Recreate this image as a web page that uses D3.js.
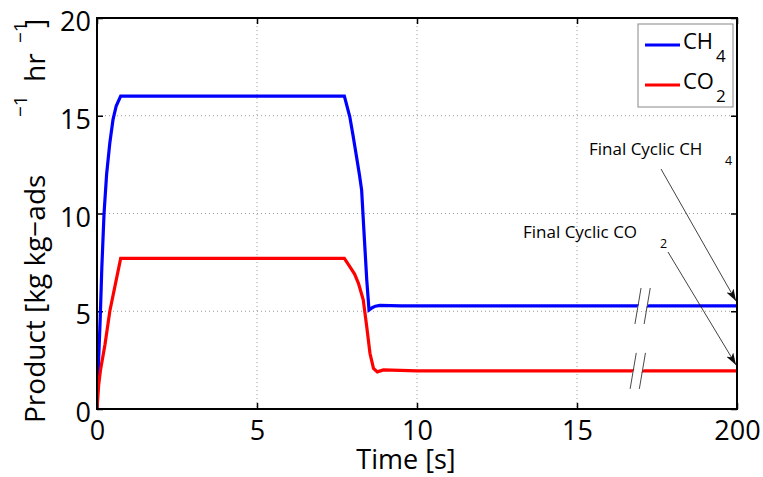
<!DOCTYPE html>
<html>
<head>
<meta charset="utf-8">
<script src="https://cdn.jsdelivr.net/npm/d3@7"></script>
<style>
  body { margin: 0; background: #fff; }
  svg text { font-family: "Open Sans", "Noto Sans", sans-serif; fill: #000; }
</style>
</head>
<body>
<svg id="draw"></svg>
<script>
// values
var tCH4 = [0, 0.05, 0.1, 0.15, 0.22, 0.3, 0.4, 0.5, 0.6, 0.74, 7.73, 7.9, 8.0, 8.11, 8.2, 8.27, 8.34, 8.43, 8.5, 8.6, 8.7, 8.84, 9.5, 20];
var ch4 = [0, 2.5, 4.6, 7.2, 10, 12, 13.6, 14.8, 15.5, 16.0, 16.0, 14.95, 14.0, 12.9, 12.0, 11.2, 9.15, 6.6, 5.06, 5.18, 5.26, 5.3, 5.27, 5.27];

var tCO2 = [0, 0.05, 0.11, 0.25, 0.4, 0.74, 7.73, 7.9, 8.05, 8.17, 8.32, 8.43, 8.53, 8.64, 8.76, 8.95, 10, 20];
var co2 = [0, 1.2, 2.0, 3.3, 5.0, 7.7, 7.7, 7.28, 6.9, 6.43, 5.58, 4.2, 2.85, 2.08, 1.9, 2.0, 1.95, 1.95];

var xTicks = [0, 5, 10, 15, 20];
var xTickLabels = ["0", "5", "10", "15", "200"];
var yTicks = [0, 5, 10, 15, 20];
var breakT = [17.05, 16.9]; // axis break marks, CH4 / CO2

var W = 763, H = 477;
var margin = { top: 18, right: 26, bottom: 68, left: 97 };
var width = W - margin.left - margin.right;
var height = H - margin.top - margin.bottom;

var svg = d3.select("#draw").attr("width", W).attr("height", H);

var defs = svg.append("defs");
defs.append("clipPath").attr("id", "clip")
  .append("rect").attr("width", width).attr("height", height);
defs.append("marker")
  .attr("id", "arrow")
  .attr("viewBox", "0 0 12 8")
  .attr("refX", 12).attr("refY", 4)
  .attr("markerWidth", 12).attr("markerHeight", 8)
  .attr("markerUnits", "userSpaceOnUse")
  .attr("orient", "auto")
  .append("path")
  .attr("d", "M0,0 L12,4 L0,8 L3,4 Z")
  .attr("fill", "#111");

var g = svg.append("g")
  .attr("transform", "translate(" + margin.left + "," + margin.top + ")");

var xScale = d3.scaleLinear().domain([0, 20]).range([0, width]);
var yScale = d3.scaleLinear().domain([0, 20]).range([height, 0]);

// grid
g.append("g").selectAll("line")
  .data(xTicks.slice(1, -1))
  .enter().append("line")
  .attr("x1", function(d) { return xScale(d); })
  .attr("x2", function(d) { return xScale(d); })
  .attr("y1", 0).attr("y2", height)
  .attr("stroke", "#999").attr("stroke-dasharray", "1,3");
g.append("g").selectAll("line")
  .data(yTicks.slice(1, -1))
  .enter().append("line")
  .attr("y1", function(d) { return yScale(d); })
  .attr("y2", function(d) { return yScale(d); })
  .attr("x1", 0).attr("x2", width)
  .attr("stroke", "#999").attr("stroke-dasharray", "1,3");

// axes, ticks inside
var xAxis = g.append("g")
  .attr("transform", "translate(0," + height + ")")
  .call(d3.axisBottom(xScale)
    .tickValues(xTicks)
    .tickFormat(function(d, i) { return xTickLabels[i]; })
    .tickSize(-6).tickPadding(12));
var xTop = g.append("g")
  .call(d3.axisTop(xScale).tickValues(xTicks).tickSize(-6).tickFormat(""));
var yAxis = g.append("g")
  .call(d3.axisLeft(yScale).tickValues(yTicks).tickSize(-6).tickPadding(6));
var yRight = g.append("g")
  .attr("transform", "translate(" + width + ",0)")
  .call(d3.axisRight(yScale).tickValues(yTicks).tickSize(-6).tickFormat(""));

[xAxis, xTop, yAxis, yRight].forEach(function(a) {
  a.select(".domain").remove();
  a.selectAll(".tick line").attr("stroke", "#000").attr("stroke-width", 1.5);
  a.selectAll("text").attr("font-size", 27).style("font-family", "'Open Sans', sans-serif");
});
yAxis.selectAll("text").attr("dy", "0.47em");

// lines
var line = d3.line()
  .x(function(d) { return xScale(d[0]); })
  .y(function(d) { return yScale(d[1]); });

var plot = g.append("g").attr("clip-path", "url(#clip)");
plot.append("path")
  .datum(d3.zip(tCH4, ch4))
  .attr("fill", "none").attr("stroke", "#0000ff").attr("stroke-width", 3.2)
  .attr("d", line);
plot.append("path")
  .datum(d3.zip(tCO2, co2))
  .attr("fill", "none").attr("stroke", "#ff0000").attr("stroke-width", 3.2)
  .attr("d", line);

// axis break marks on each line
var breaks = [
  { t: breakT[0], v: ch4[ch4.length - 1] },
  { t: breakT[1], v: co2[co2.length - 1] }
];
breaks.forEach(function(b) {
  var cx = xScale(b.t), cy = yScale(b.v);
  var h = 18, s = 3.2, gap = 4.6;
  g.append("path")
    .attr("d", "M" + (cx - gap + s) + "," + (cy - 5) + " L" + (cx + gap + s) + "," + (cy - 5) +
      " L" + (cx + gap - s) + "," + (cy + 5) + " L" + (cx - gap - s) + "," + (cy + 5) + " Z")
    .attr("fill", "#fff");
  [-gap, gap].forEach(function(o) {
    g.append("line")
      .attr("x1", cx + o + h * 0.17).attr("y1", cy - h)
      .attr("x2", cx + o - h * 0.17).attr("y2", cy + h)
      .attr("stroke", "#333").attr("stroke-width", 0.9);
  });
});

// box
g.append("rect")
  .attr("width", width).attr("height", height)
  .attr("fill", "none").attr("stroke", "#000").attr("stroke-width", 2);

// legend
var leg = svg.append("g").attr("transform", "translate(638,24)");
leg.append("rect").attr("width", 95).attr("height", 83)
  .attr("fill", "#fff").attr("stroke", "#888").attr("stroke-width", 1);
var legItems = [
  { name: "CH", sub: "4", color: "#0000ff", y: 21 },
  { name: "CO", sub: "2", color: "#ff0000", y: 61 }
];
legItems.forEach(function(d) {
  leg.append("line").attr("x1", 7).attr("x2", 42).attr("y1", d.y).attr("y2", d.y)
    .attr("stroke", d.color).attr("stroke-width", 3.2);
  leg.append("text").attr("x", 45).attr("y", d.y + 4).attr("font-size", 22).text(d.name);
  leg.append("text").attr("x", 78).attr("y", d.y + 17).attr("font-size", 17).text(d.sub);
});

// annotations
svg.append("text").attr("x", 589).attr("y", 155).attr("font-size", 17).text("Final Cyclic CH");
svg.append("text").attr("x", 725).attr("y", 165).attr("font-size", 12.5).text("4");
svg.append("text").attr("x", 523).attr("y", 238).attr("font-size", 17).text("Final Cyclic CO");
svg.append("text").attr("x", 660).attr("y", 248).attr("font-size", 12.5).text("2");

svg.append("line")
  .attr("x1", 661).attr("y1", 169)
  .attr("x2", margin.left + width - 1).attr("y2", yScale(ch4[ch4.length - 1]) + margin.top - 5)
  .attr("stroke", "#111").attr("stroke-width", 0.8).attr("marker-end", "url(#arrow)");
svg.append("line")
  .attr("x1", 668).attr("y1", 252)
  .attr("x2", margin.left + width - 1).attr("y2", yScale(co2[co2.length - 1]) + margin.top - 6)
  .attr("stroke", "#111").attr("stroke-width", 0.8).attr("marker-end", "url(#arrow)");

// axis titles
svg.append("text")
  .attr("x", 406).attr("y", 469)
  .attr("text-anchor", "middle").attr("font-size", 27)
  .text("Time [s]");

var yl = svg.append("text")
  .attr("transform", "rotate(-90)")
  .attr("font-size", 28);
yl.append("tspan").attr("x", -423).attr("y", 45).text("Product [kg kg\u2212ads");
yl.append("tspan").attr("x", -117).attr("y", 27).attr("font-size", 19).text("\u22121");
yl.append("tspan").attr("x", -82).attr("y", 45).text("hr");
yl.append("tspan").attr("x", -43).attr("y", 27).attr("font-size", 19).text("\u22121");
yl.append("tspan").attr("x", -28).attr("y", 45).text("]");
</script>
</body>
</html>
